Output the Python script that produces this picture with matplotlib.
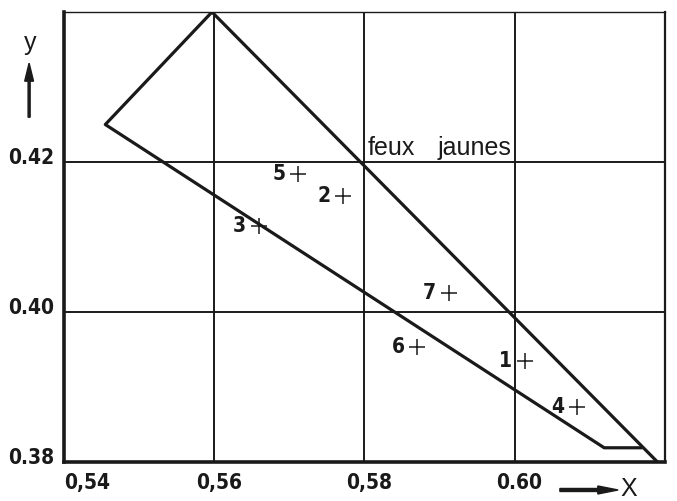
import matplotlib
matplotlib.use("Agg")
import matplotlib.pyplot as plt

# chromaticity region for yellow signal lights
region_x = [0.5597, 0.5455, 0.6119, 0.6170]
region_y = [0.4400, 0.4250, 0.3819, 0.3819]
edge_x = [0.5597, 0.6190]
edge_y = [0.4400, 0.3800]

# measured lamps
lamp_ids = ["1", "2", "3", "4", "5", "6", "7"]
lamp_x = [0.6013, 0.5772, 0.5659, 0.6083, 0.5712, 0.5870, 0.5912]
lamp_y = [0.3935, 0.4155, 0.4115, 0.3874, 0.4184, 0.3954, 0.4026]

x_ticks = [0.54, 0.56, 0.58, 0.60]
x_labels = ["0,54", "0,56", "0,58", "0.60"]
y_ticks = [0.38, 0.40, 0.42]
y_labels = ["0.38", "0.40", "0.42"]

bold = dict(fontsize=15, fontweight="bold", fontstretch="condensed",
            family=["DejaVu Sans"])
plain = ["Liberation Sans", "DejaVu Sans"]
ink = "#1a1a1a"

fig = plt.figure(figsize=(6.77, 5.01), dpi=100)
ax = fig.add_axes([0.0945, 0.0778, 0.8878, 0.8982])
ax.set_xlim(0.54, 0.62)
ax.set_ylim(0.38, 0.44)

# grid
for gx in [0.56, 0.58, 0.60]:
    ax.axvline(gx, color=ink, lw=1.4, zorder=1)
for gy in [0.40, 0.42]:
    ax.axhline(gy, color=ink, lw=1.4, zorder=1)

# frame
for side in ["left", "bottom"]:
    ax.spines[side].set_linewidth(2.6)
ax.spines["right"].set_linewidth(1.6)
ax.spines["top"].set_linewidth(1.0)
ax.spines["top"].set_linestyle((0, (2, 1)))
for s in ax.spines.values():
    s.set_color(ink)

# region boundary
ax.plot(region_x, region_y, color=ink, lw=2.3, solid_capstyle="butt", zorder=3)
ax.plot(edge_x, edge_y, color=ink, lw=2.3, solid_capstyle="butt", zorder=3)

# lamp points
ax.plot(lamp_x, lamp_y, "+", color=ink, ms=11, mew=1.1, zorder=4)
for lid, lx, ly in zip(lamp_ids, lamp_x, lamp_y):
    ax.annotate(lid, (lx, ly), xytext=(-9, 0), textcoords="offset points",
                ha="right", va="center", color=ink, **bold)

ax.text(0.5804, 0.4209, "feux", fontsize=18, family=plain,
        color=ink, ha="left", va="baseline", zorder=5)
ax.text(0.5897, 0.4209, "jaunes", fontsize=18, family=plain,
        color=ink, ha="left", va="baseline", zorder=5)

ax.set_xticks([])
ax.set_yticks([])

for i, (tx, lab) in enumerate(zip(x_ticks, x_labels)):
    ax.text(tx + (0.0 if i == 0 else 0.0006), 0.3785, lab, ha="left" if i == 0 else "center",
            va="top", color=ink, **bold)
for ty, lab in zip(y_ticks, y_labels):
    ax.text(0.5387, ty + 0.0006, lab, ha="right", va="center", color=ink, **bold)

# axis names with arrows
fig.text(0.045, 0.914, "y", fontsize=18, family=plain,
         ha="center", va="center", color=ink)
fig.patches.append(matplotlib.patches.FancyArrow(
    0.043, 0.766, 0, 0.108, width=0.003, head_width=0.013, head_length=0.036,
    transform=fig.transFigure, color=ink, length_includes_head=True))
fig.patches.append(matplotlib.patches.FancyArrow(
    0.827, 0.022, 0.086, 0, width=0.006, head_width=0.016, head_length=0.03,
    transform=fig.transFigure, color=ink, length_includes_head=True))
fig.text(0.928, 0.024, "X", fontsize=18, family=plain,
         ha="center", va="center", color=ink)

fig.savefig("out.png", dpi=100)
